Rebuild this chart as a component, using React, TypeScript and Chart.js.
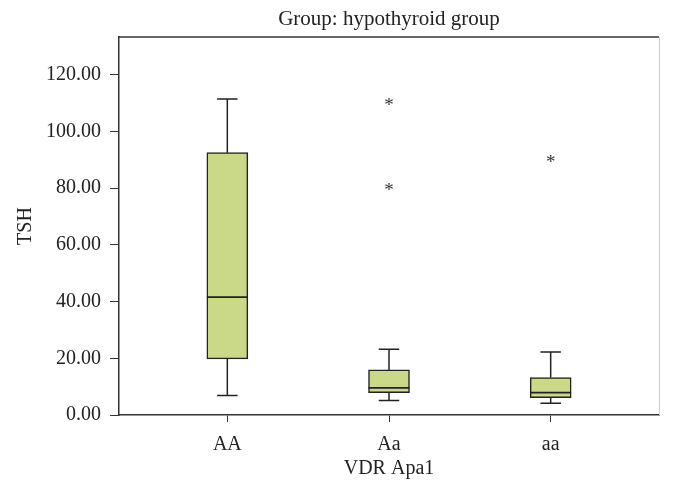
import React, { useEffect, useRef } from 'react';
import { Chart, registerables } from 'chart.js';
Chart.register(...registerables);

const categories = ['AA', 'Aa', 'aa'];
const whiskerLow = [6.9, 5.1, 4.1];
const q1 = [19.8, 7.9, 6.1];
const median = [41.6, 9.6, 7.9];
const q3 = [92.5, 15.9, 13.2];
const whiskerHigh = [111.4, 23.2, 22.2];
const outlierValues: number[][] = [[], [80.0, 110.2], [90.0]];
const yTickValues = [0, 20, 40, 60, 80, 100, 120];
const yMax = 133.3;
const chartTitle = 'Group: hypothyroid group';
const xTitle = 'VDR Apa1';
const yTitle = 'TSH';

const FONT = '"Liberation Serif", "DejaVu Serif", serif';
const BOX_W = 41;

const boxPlugin = {
  id: 'boxExtras',
  afterDatasetsDraw(chart: any) {
    const { ctx, scales } = chart;
    const xs = scales.x;
    const ys = scales.y;
    ctx.save();
    ctx.strokeStyle = '#222';
    ctx.lineWidth = 1.5;
    categories.forEach((_, i) => {
      const cx = xs.getPixelForValue(i);
      const yHi = ys.getPixelForValue(whiskerHigh[i]);
      const yLo = ys.getPixelForValue(whiskerLow[i]);
      const yQ1 = ys.getPixelForValue(q1[i]);
      const yQ3 = ys.getPixelForValue(q3[i]);
      const yMed = ys.getPixelForValue(median[i]);
      const cap = BOX_W / 4;
      ctx.beginPath();
      ctx.moveTo(cx, yQ3);
      ctx.lineTo(cx, yHi);
      ctx.moveTo(cx - cap, yHi);
      ctx.lineTo(cx + cap, yHi);
      ctx.moveTo(cx, yQ1);
      ctx.lineTo(cx, yLo);
      ctx.moveTo(cx - cap, yLo);
      ctx.lineTo(cx + cap, yLo);
      ctx.stroke();
      ctx.beginPath();
      ctx.lineWidth = 1.8;
      ctx.moveTo(cx - BOX_W / 2, yMed);
      ctx.lineTo(cx + BOX_W / 2, yMed);
      ctx.stroke();
      ctx.lineWidth = 1.5;
      ctx.fillStyle = '#333';
      ctx.font = '19px ' + FONT;
      ctx.textAlign = 'center';
      ctx.textBaseline = 'alphabetic';
      outlierValues[i].forEach((v) => {
        const py = ys.getPixelForValue(v);
        ctx.fillText('*', cx, py + 8);
      });
    });
    ctx.restore();
  },
  afterDraw(chart: any) {
    const { ctx, chartArea } = chart;
    ctx.save();
    ctx.strokeStyle = '#cccccc';
    ctx.lineWidth = 1;
    ctx.beginPath();
    ctx.moveTo(chartArea.right + 0.5, chartArea.top);
    ctx.lineTo(chartArea.right + 0.5, chartArea.bottom);
    ctx.stroke();
    ctx.strokeStyle = '#333';
    ctx.lineWidth = 1.5;
    ctx.beginPath();
    ctx.moveTo(chartArea.left, chartArea.top);
    ctx.lineTo(chartArea.right, chartArea.top);
    ctx.stroke();
    ctx.fillStyle = '#222';
    ctx.font = '21px ' + FONT;
    ctx.textAlign = 'center';
    ctx.textBaseline = 'alphabetic';
    ctx.fillText(chartTitle, (chartArea.left + chartArea.right) / 2, 25);
    ctx.restore();
  },
};

export default function App() {
  const ref = useRef<HTMLCanvasElement | null>(null);
  useEffect(() => {
    if (!ref.current) return;
    const chart = new Chart(ref.current, {
      type: 'bar',
      data: {
        datasets: [
          {
            data: categories.map((_, i) => ({ x: i, y: [q1[i], q3[i]] })) as any,
            backgroundColor: '#cad987',
            borderColor: '#222',
            borderWidth: 1.5,
            borderSkipped: false,
            barThickness: BOX_W,
          },
        ],
      },
      options: {
        animation: false,
        responsive: false,
        devicePixelRatio: 1,
        layout: { padding: { top: 37, right: 15, left: 0, bottom: 0 } },
        plugins: { legend: { display: false }, tooltip: { enabled: false }, title: { display: false } },
        scales: {
          x: {
            type: 'linear',
            min: -0.67,
            max: 2.67,
            offset: false,
            afterBuildTicks: (s: any) => {
              s.ticks = categories.map((_, i) => ({ value: i }));
            },
            afterFit: (s: any) => {
              s.height = 82;
            },
            ticks: {
              callback: (v: any) => categories[v] ?? '',
              color: '#222',
              font: { family: FONT, size: 20 },
              padding: 11,
              maxRotation: 0,
            },
            grid: { drawOnChartArea: false, offset: false, tickLength: 7, color: '#333', lineWidth: 1 },
            border: { color: '#333', width: 1.5 },
            title: {
              display: true,
              text: xTitle,
              color: '#222',
              font: { family: FONT, size: 20 },
              padding: { top: 0, bottom: 16 },
            },
          },
          y: {
            type: 'linear',
            min: 0,
            max: yMax,
            afterBuildTicks: (s: any) => {
              s.ticks = yTickValues.map((v) => ({ value: v }));
            },
            afterFit: (s: any) => {
              s.width = 119;
            },
            ticks: {
              callback: (v: any) => Number(v).toFixed(2),
              color: '#222',
              font: { family: FONT, size: 20 },
              padding: 9,
            },
            grid: { drawOnChartArea: false, tickLength: 9, color: '#333', lineWidth: 1 },
            border: { color: '#333', width: 1.5 },
            title: {
              display: true,
              text: yTitle,
              color: '#222',
              font: { family: FONT, size: 20 },
              padding: { top: 14, bottom: 0 },
            },
          },
        },
      } as any,
      plugins: [boxPlugin],
    });
    return () => chart.destroy();
  }, []);
  return (
    <div style={{ position: 'fixed', left: 0, top: 0, width: 674, height: 497, background: '#fff' }}>
      <canvas ref={ref} width={674} height={497} style={{ width: 674, height: 497 }} />
    </div>
  );
}
